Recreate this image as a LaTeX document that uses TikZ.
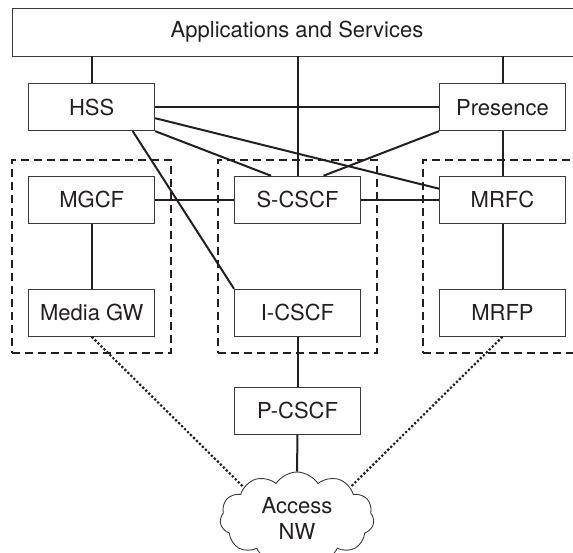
\documentclass[tikz,border=0pt]{standalone}
\usepackage{fontspec}
\setmainfont{TeX Gyre Heros}
\usepackage{xcolor}
\usepackage{tikz}
\usetikzlibrary{calc, positioning, fit, shapes.symbols}
\definecolor{imsink}{HTML}{231F20}
\definecolor{imsedge}{HTML}{3A3A3A}
\newcommand{\fsBox}{\fontsize{22}{26}\selectfont}

\begin{document}
\begin{tikzpicture}[x=1pt, y=-1pt,
  every node/.style={font=\fsBox, text=imsink},
  fbox/.style={draw=imsedge, line width=0.9pt, minimum width=126pt, minimum height=47pt, inner sep=0pt},
  link/.style={draw=imsink, line width=2pt},
  media/.style={draw=imsink, line width=2.2pt, dash pattern=on 2.2pt off 2pt},
  imsdomain/.style={draw=imsink, line width=2.2pt, dash pattern=on 8pt off 5pt, inner sep=16pt}]
  \useasboundingbox (0,0) rectangle (573,552);
  \clip (0,0) rectangle (573,552);

  % top layer
  \node[fbox, minimum width=570pt, minimum height=48pt] (apps) at (297,32) {Applications and Services};
  \node[fbox] (hss) at (91.7,107.2) {HSS};
  \node[fbox] (presence) at (502.5,107.2) {Presence};

  % control layer
  \node[fbox] (mgcf) at (91.7,199.7) {MGCF};
  \node[fbox] (scscf) at (297.5,199.7) {S-CSCF};
  \node[fbox] (mrfc) at (502.5,199.7) {MRFC};
  \node[fbox] (mgw) at (91.7,312.8) {Media GW};
  \node[fbox] (icscf) at (297.5,312.8) {I-CSCF};
  \node[fbox] (mrfp) at (502.5,312.8) {MRFP};
  \node[fbox] (pcscf) at (297.5,410.8) {P-CSCF};
  \node[cloud, draw=imsedge, line width=0.9pt, cloud puffs=11, cloud puff arc=115, cloud ignores aspect,
        minimum width=154pt, minimum height=92pt, inner sep=0pt, align=center] (access) at (297,518) {Access\\NW};

  % dashed domains
  \node[imsdomain, fit=(mgcf)(mgw)] (gwdom) {};
  \node[imsdomain, fit=(scscf)(icscf)] (cscfdom) {};
  \node[imsdomain, fit=(mrfc)(mrfp)] (mrfdom) {};

  % links
  \draw[link] (hss.north) -- (hss.north |- apps.south);
  \draw[link] (scscf.north) -- (scscf.north |- apps.south);
  \draw[link] (presence.north) -- (presence.north |- apps.south);
  \draw[link] (hss.east) -- (presence.west);
  \draw[link] (hss.south east) -- ([xshift=-26.5pt]scscf.north);
  \draw[link] ([yshift=-11pt]hss.east) -- ([yshift=11pt]mrfc.west);
  \draw[link] ([xshift=41pt]hss.south) -- (icscf.north west);
  \draw[link] (presence.south west) -- ([xshift=26pt]scscf.north);
  \draw[link] (presence.south) -- (mrfc.north);
  \draw[link] (mgcf.east) -- (scscf.west);
  \draw[link] (scscf.east) -- (mrfc.west);
  \draw[link] (mgcf.south) -- (mgw.north);
  \draw[link] (mrfc.south) -- (mrfp.north);
  \draw[link] (icscf.south) -- (pcscf.north);
  \draw[link] (pcscf.south) -- (access.north);
  \draw[media] (mgw.south) -- (access.150);
  \draw[media] (mrfp.south) -- (access.30);
\end{tikzpicture}
\end{document}
